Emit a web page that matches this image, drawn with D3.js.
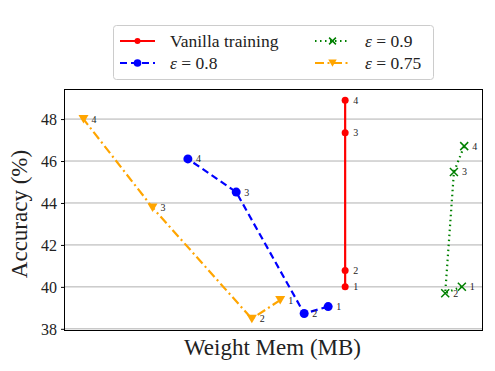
<!DOCTYPE html>
<html><head><meta charset="utf-8">
<script src="https://cdn.jsdelivr.net/npm/d3@7"></script>
<style>body{margin:0;background:#fff}svg{display:block}text{font-family:"Liberation Serif","DejaVu Serif",serif;fill:#222}</style>
</head><body><svg id="c" width="495" height="371"></svg>
<script>
// Data (x: weight memory, arbitrary MB scale; y: accuracy %)
const vanillaX = [33.57, 33.57, 33.57, 33.57];
const vanillaY = [40.00, 40.78, 47.35, 48.90];
const eps08X = [31.54, 28.67, 20.54, 14.76];
const eps08Y = [39.06, 38.73, 44.52, 46.10];
const eps09X = [47.53, 45.54, 46.58, 47.81];
const eps09Y = [40.01, 39.70, 45.48, 46.71];
const eps075X = [25.80, 22.41, 10.53, 2.27];
const eps075Y = [39.37, 38.48, 43.78, 48.00];
const pointLabels = ["1", "2", "3", "4"];
const yTicks = [38, 40, 42, 44, 46, 48];

const series = [
  {name: "Vanilla training", xs: vanillaX, ys: vanillaY, color: "#ff0000", dash: null, marker: "circle", r: 3.5},
  {name: "0.8", eps: true, xs: eps08X, ys: eps08Y, color: "#0000ff", dash: "7,4", marker: "circle", r: 4.5},
  {name: "0.9", eps: true, xs: eps09X, ys: eps09Y, color: "#008000", dash: "1.5,3.5", marker: "x", r: 4},
  {name: "0.75", eps: true, xs: eps075X, ys: eps075Y, color: "#ffa500", dash: "9,3.5,2,3.5", marker: "tri", r: 5}
];

const svg = d3.select("#c");
const L = 64.5, R = 482.5, T = 89.5, B = 330.5;
const x = d3.scaleLinear().domain([0, 50]).range([L, R]);
const y = d3.scaleLinear().domain([37.92, 49.41]).range([B, T]);

// grid
svg.append("g").selectAll("line").data(yTicks).join("line")
  .attr("x1", L).attr("x2", R).attr("y1", d => y(d)).attr("y2", d => y(d))
  .attr("stroke", "#b0b0b0").attr("stroke-width", 1);

// axes
const yAxis = d3.axisLeft(y).tickValues(yTicks).tickSize(3.5).tickPadding(4);
const gy = svg.append("g").attr("transform", `translate(${L},0)`).call(yAxis);
gy.select(".domain").remove();
gy.selectAll("text").style("font-size", "16px").attr("fill", "#222").attr("dy", "0.35em");
gy.selectAll("line").attr("stroke", "#000");

svg.append("rect").attr("x", L).attr("y", T).attr("width", R - L).attr("height", B - T)
  .attr("fill", "none").attr("stroke", "#000").attr("stroke-width", 1);

// axis labels
svg.append("text").attr("x", (L + R) / 2 - 1).attr("y", 355).attr("text-anchor", "middle")
  .style("font-size", "23px").text("Weight Mem (MB)");
svg.append("text").attr("transform", `translate(27,${(T + B) / 2 + 4}) rotate(-90)`).attr("text-anchor", "middle")
  .style("font-size", "23px").text("Accuracy (%)");

function drawMarker(g, type, cx, cy, r, color) {
  if (type === "circle") {
    g.append("circle").attr("cx", cx).attr("cy", cy).attr("r", r).attr("fill", color);
  } else if (type === "x") {
    g.append("path").attr("d", `M${cx - r},${cy - r}L${cx + r},${cy + r}M${cx - r},${cy + r}L${cx + r},${cy - r}`)
      .attr("stroke", color).attr("stroke-width", 1.5).attr("fill", "none");
  } else {
    g.append("path").attr("d", `M${cx - r},${cy - r * 0.8}L${cx + r},${cy - r * 0.8}L${cx},${cy + r * 0.9}Z`).attr("fill", color);
  }
}

const line = d3.line().x(d => x(d[0])).y(d => y(d[1]));
series.forEach(s => {
  const pts = s.xs.map((v, i) => [v, s.ys[i]]);
  const g = svg.append("g");
  g.append("path").attr("d", line(pts)).attr("fill", "none").attr("stroke", s.color)
    .attr("stroke-width", 2.2).attr("stroke-dasharray", s.dash);
  pts.forEach((p, i) => {
    drawMarker(g, s.marker, x(p[0]), y(p[1]), s.r, s.color);
    g.append("text").attr("x", x(p[0]) + 8).attr("y", y(p[1]) + 3.5)
      .style("font-size", "10px").text(pointLabels[i]);
  });
});

// legend
const lg = svg.append("g");
lg.append("rect").attr("x", 113.5).attr("y", 25.5).attr("width", 320).attr("height", 54).attr("rx", 3)
  .attr("fill", "#fff").attr("stroke", "#ccc").attr("stroke-width", 1);
const pos = [[120, 41], [120, 63], [315, 41], [315, 63]];
series.forEach((s, i) => {
  const [lx, ly] = pos[i];
  lg.append("line").attr("x1", lx).attr("x2", lx + 35).attr("y1", ly).attr("y2", ly)
    .attr("stroke", s.color).attr("stroke-width", 2.2).attr("stroke-dasharray", s.dash);
  drawMarker(lg, s.marker, lx + 17.5, ly, s.r * 0.85, s.color);
  const t = lg.append("text").attr("x", lx + 50).attr("y", ly + 5.5).style("font-size", "17.5px");
  if (s.eps) {
    t.append("tspan").style("font-style", "italic").text("ε");
    t.append("tspan").text(" = " + s.name);
  } else t.text(s.name);
});
</script></body></html>
